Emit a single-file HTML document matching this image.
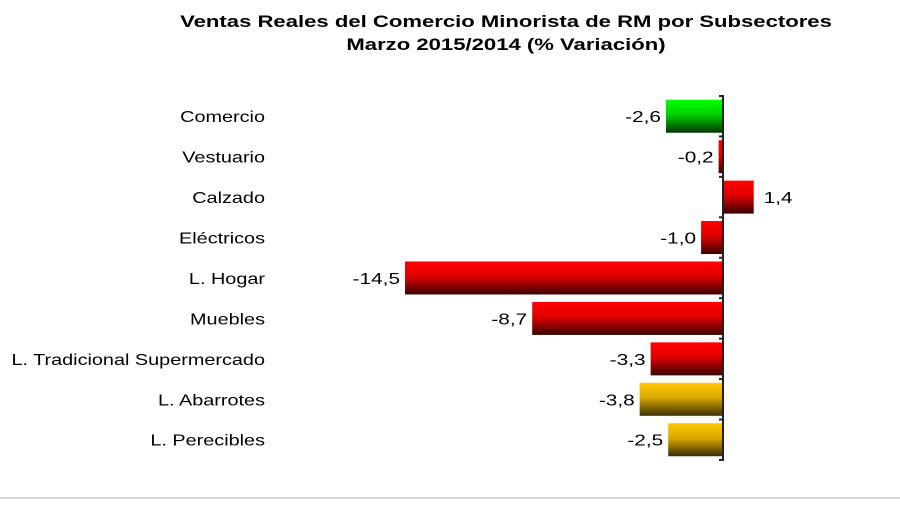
<!DOCTYPE html>
<html><head><meta charset="utf-8"><style>
body{margin:0;background:#fff;font-family:"Liberation Sans",Arial,sans-serif}
svg text{font-family:"Liberation Sans",Arial,sans-serif}
</style></head><body>
<svg width="900" height="500" xmlns="http://www.w3.org/2000/svg">
<defs>
<linearGradient id="gr" x1="0" y1="0" x2="0" y2="1"><stop offset="0" stop-color="#ff0000"/><stop offset="0.45" stop-color="#e00000"/><stop offset="1" stop-color="#3a0000"/></linearGradient>
<linearGradient id="gg" x1="0" y1="0" x2="0" y2="1"><stop offset="0" stop-color="#00ff00"/><stop offset="0.45" stop-color="#00d000"/><stop offset="1" stop-color="#003800"/></linearGradient>
<linearGradient id="gy" x1="0" y1="0" x2="0" y2="1"><stop offset="0" stop-color="#ffc800"/><stop offset="0.45" stop-color="#d9a800"/><stop offset="1" stop-color="#3a2e00"/></linearGradient>
</defs>
<text transform="translate(506,27) scale(1.3,1)" text-anchor="middle" font-size="17" font-weight="bold">Ventas Reales del Comercio Minorista de RM por Subsectores</text>
<text transform="translate(506,50) scale(1.3,1)" text-anchor="middle" font-size="17" font-weight="bold">Marzo  2015/2014 (% Variación)</text>
<g id="plot"></g>
<line x1="0" y1="498" x2="900" y2="498" stroke="#d8d8d8" stroke-width="2"/>
</svg>
<script>
const categories=["Comercio","Vestuario","Calzado","Eléctricos","L. Hogar","Muebles","L. Tradicional Supermercado","L. Abarrotes","L. Perecibles"];
const values=[-2.6,-0.2,1.4,-1.0,-14.5,-8.7,-3.3,-3.8,-2.5];
const valueLabels=["-2,6","-0,2","1,4","-1,0","-14,5","-8,7","-3,3","-3,8","-2,5"];
const colors=["gg","gr","gr","gr","gr","gr","gr","gy","gy"];
const NS="http://www.w3.org/2000/svg";
const g=document.getElementById('plot');
const x0=723,scale=21.93,top0=96,band=40.44,bh=33;
const xs=v=>x0+v*scale;
const yb=i=>top0+i*band;
function mk(t,a){const e=document.createElementNS(NS,t);for(const k in a)e.setAttribute(k,a[k]);g.appendChild(e);return e;}
categories.forEach((c,i)=>{
  const v=values[i],y=yb(i)+(band-bh)/2;
  const x1=Math.min(xs(0),xs(v)),w=Math.abs(xs(v)-xs(0));
  const r=mk('rect',{x:x1,y:y,width:Math.max(w,1),height:bh,fill:'url(#'+colors[i]+')'});
  
  
  const cy=yb(i)+band/2+6;
  const l=mk('text',{transform:'translate(265,'+cy+') scale(1.24,1)','text-anchor':'end','font-size':16});
  l.textContent=c;
  
  
  const vx=v<0?x1-5:x1+w+10;
  const vl=mk('text',{transform:'translate('+vx+','+cy+') scale(1.3,1)','text-anchor':v<0?'end':'start','font-size':16});
  vl.textContent=valueLabels[i];
  
  
});
const ax=mk('line',{x1:x0,y1:top0,x2:x0,y2:yb(categories.length),stroke:'#222','stroke-width':2});


for(let i=0;i<=categories.length;i++){
  const t=mk('line',{x1:x0-4,y1:yb(i),x2:x0+1,y2:yb(i),stroke:'#222','stroke-width':2});
  
  
}
</script>
</body></html>
